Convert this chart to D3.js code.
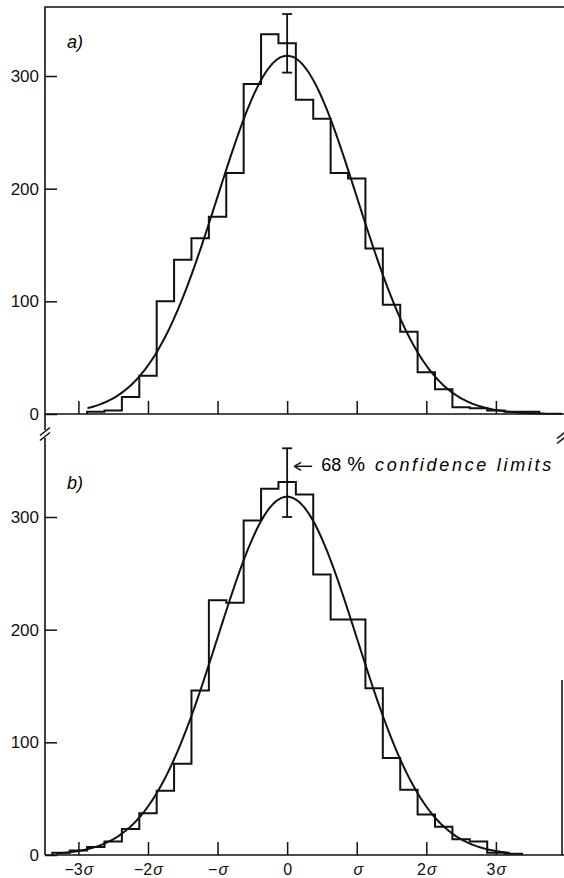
<!DOCTYPE html>
<html>
<head>
<meta charset="utf-8">
<script src="https://cdn.jsdelivr.net/npm/d3@7/dist/d3.min.js"></script>
<style>
	body { margin: 0; background: #fff; }
	svg { display: block; font-family: "Liberation Sans", Arial, sans-serif; }
	.hist, .curve { fill: none; stroke: #111; stroke-width: 2; stroke-linejoin: miter; }
	.frame { stroke: #111; stroke-width: 1.6; fill: none; }
	.tick line { stroke: #111; stroke-width: 1.5; }
	.tick text { fill: #111; }
</style>
</head>
<body>
<script>
// bins are sigma/4 wide, centred on k/4 sigma
const binStartA = -11;
const countsA = [2, 3, 15, 34, 100, 137, 156, 175, 214, 293, 337, 329, 279, 262, 214, 209, 147, 97, 73, 37, 22, 6, 5, 3, 2, 2];
const binStartB = -13;
const countsB = [2, 4, 7, 12, 23, 37, 57, 81, 146, 226, 224, 297, 325, 331, 320, 249, 209, 209, 148, 86, 58, 36, 25, 14, 12, 2, 1];

const yTicks = [0, 100, 200, 300];
const xTicks = [-3, -2, -1, 0, 1, 2, 3];
const xTickLabels = ["\u22123", "\u22122", "\u2212", "0", "", "2", "3"];

const fitPeak = 318;
const errA = [303, 355];
const errB = [300, 361];
const panelLabels = ["a)", "b)"];
const noteText = "confidence limits";

const width = 564, height = 878;
const axisX = 45, rightX = 562;

const svg = d3.select("body").append("svg")
	.attr("width", width)
	.attr("height", height);

const x = d3.scaleLinear().domain([-3.48, 3.95]).range([axisX, rightX]);
const yA = d3.scaleLinear().domain([0, 300]).range([414, 76]);
const yB = d3.scaleLinear().domain([0, 300]).range([855, 517]);

function histPath(start, counts, y) {
	const pts = [];
	counts.forEach((c, i) => {
		const k = (start + i) / 4;
		pts.push([x(k - 0.125), y(c)]);
		pts.push([x(k + 0.125), y(c)]);
	});
	const first = pts[0], last = pts[pts.length - 1];
	return d3.line()([[first[0], y(0)], ...pts, [last[0], y(0)]]);
}

function curvePath(from, to, y) {
	const xs = d3.range(from, to + 0.001, 0.02);
	return d3.line()
		.x(d => x(d))
		.y(d => y(fitPeak * Math.exp(-d * d / 2)))
		.curve(d3.curveBasis)(xs);
}

function drawPanel(y, start, counts, err, label, showLabels, curveRange) {
	const g = svg.append("g");

	g.append("g")
		.attr("transform", `translate(${axisX},0)`)
		.call(d3.axisLeft(y).tickValues(yTicks).tickSize(-12).tickPadding(6))
		.call(a => a.select(".domain").remove())
		.selectAll("text").attr("font-size", 17);

	const xa = g.append("g")
		.attr("transform", `translate(0,${y(0)})`)
		.call(d3.axisBottom(x).tickValues(xTicks).tickSize(-13).tickPadding(9).tickFormat(""))
		.call(a => a.select(".domain").remove());

	if (showLabels) {
		xa.selectAll(".tick text").each(function(d, i) {
			const t = d3.select(this).attr("font-size", 16);
			t.append("tspan").text(xTickLabels[i]);
			if (d !== 0) t.append("tspan").attr("dx", 1).attr("font-style", "italic").text("\u03c3");
		});
	}

	g.append("line").attr("class", "frame")
		.attr("x1", axisX).attr("x2", width)
		.attr("y1", y(0)).attr("y2", y(0));

	g.append("path").attr("class", "hist").attr("d", histPath(start, counts, y));
	g.append("path").attr("class", "curve").attr("d", curvePath(curveRange[0], curveRange[1], y));

	// error bar on the central bin
	const eb = g.append("g").attr("stroke", "#111").attr("stroke-width", 1.8);
	eb.append("line").attr("x1", x(0)).attr("x2", x(0)).attr("y1", y(err[0])).attr("y2", y(err[1]));
	[err[0], err[1]].forEach(v => {
		eb.append("line").attr("x1", x(0) - 5).attr("x2", x(0) + 5).attr("y1", y(v)).attr("y2", y(v));
	});

	g.append("text")
		.attr("x", 67).attr("y", y(300) - 28)
		.attr("font-size", 18).attr("font-style", "italic")
		.text(label);
	return g;
}

drawPanel(yA, binStartA, countsA, errA, panelLabels[0], false, [-2.87, 3.95]);
drawPanel(yB, binStartB, countsB, errB, panelLabels[1], true, [-3.32, 3.2]);

// frame: left axis with break, top edge, right edge of lower panel
svg.append("path").attr("class", "frame")
	.attr("d", d3.line()([[axisX, yA(0)], [axisX, 7], [width, 7]]));
svg.append("line").attr("class", "frame")
	.attr("x1", axisX).attr("x2", axisX).attr("y1", yA(0)).attr("y2", 430);
svg.append("line").attr("class", "frame")
	.attr("x1", axisX).attr("x2", axisX).attr("y1", 438).attr("y2", yB(0));
svg.append("line").attr("class", "frame")
	.attr("x1", rightX).attr("x2", rightX).attr("y1", 680).attr("y2", yB(0));

[[axisX, 434], [rightX, 437]].forEach(([cx, cy]) => {
	[-2.5, 2.5].forEach(o => {
		svg.append("line").attr("class", "frame").attr("stroke-width", 1.3)
			.attr("x1", cx - 5).attr("y1", cy + o + 4)
			.attr("x2", cx + 5).attr("y2", cy + o - 4);
	});
});

// note next to the error bar in panel b
const note = svg.append("g").attr("transform", `translate(${x(0) + 4},${yB(345)})`);
note.append("line").attr("x1", 3).attr("x2", 21).attr("y1", 0).attr("y2", 0)
	.attr("stroke", "#111").attr("stroke-width", 1.5);
note.append("path").attr("d", "M3,0 L10,-4 M3,0 L10,4").attr("stroke", "#111").attr("stroke-width", 1.5).attr("fill", "none");
const nt = note.append("text").attr("x", 30).attr("y", 5).attr("font-size", 18);
nt.append("tspan").text("68");
nt.append("tspan").attr("dx", 6).attr("font-size", 20).text("%");
nt.append("tspan").attr("dx", 10).attr("font-style", "italic").attr("letter-spacing", 2.7).text(noteText);
</script>
</body>
</html>
